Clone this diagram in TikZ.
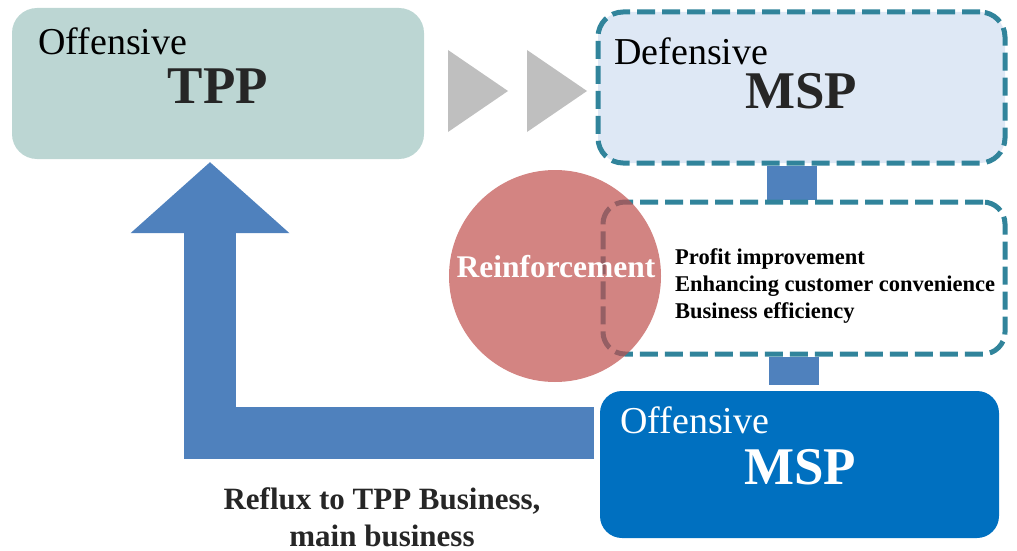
\documentclass[tikz,border=0pt]{standalone}
\usepackage{fontspec}
\setmainfont{Liberation Serif}
\usetikzlibrary{arrows.meta,backgrounds}

\definecolor{tppgreen}{HTML}{BCD6D3}
\definecolor{playgray}{HTML}{BFBFBF}
\definecolor{defblue}{HTML}{DEE8F5}
\definecolor{dashteal}{HTML}{31849B}
\definecolor{linkblue}{HTML}{4F81BD}
\definecolor{reinfred}{HTML}{C0504D}
\definecolor{mspblue}{HTML}{0070C0}
\definecolor{darktext}{HTML}{262626}

\begin{document}
\begin{tikzpicture}
		[
		x = 1pt, y = -1pt,
		box/.style = {rectangle, rounded corners = 25pt, inner sep = 0pt},
		tppbox/.style = {box, fill = tppgreen, minimum width = 412pt, minimum height = 151pt},
		dashbox/.style = {box, draw = dashteal, line width = 5pt, dash pattern = on 18pt off 7pt},
		defbox/.style = {dashbox, fill = defblue, minimum width = 407pt, minimum height = 151pt},
		gainbox/.style = {dashbox, fill = white, rounded corners = 22pt, minimum width = 402pt, minimum height = 152pt},
		mspbox/.style = {box, fill = mspblue, rounded corners = 22pt, minimum width = 399pt, minimum height = 147pt},
		tagtext/.style = {inner sep = 0pt, font = \fontsize{38}{45}\selectfont},
		headtext/.style = {inner sep = 0pt, text = darktext, font = \fontsize{53}{60}\selectfont\bfseries},
		itemtext/.style = {inner sep = 0pt, align = left, font = \fontsize{22.5}{27}\selectfont\bfseries},
		refluxtext/.style = {inner sep = 0pt, align = center, text = darktext, font = \fontsize{31}{37}\selectfont\bfseries},
		link/.style = {linkblue, line width = 50pt},
		reflux/.style = {linkblue, line width = 52pt, -{Triangle[length = 71pt, width = 159pt, line width = 0pt]}},
		play/.style = {fill = playgray},
		reinf/.style = {circle, fill = reinfred, fill opacity = 0.7, minimum size = 212pt, inner sep = 0pt},
		]
		
		\useasboundingbox (0,0) rectangle (1017,551);
		
		\node[tppbox] (tpp) at (218,83.5) {};
		\node[tagtext, anchor = base west] (tppover) at (38,55) {Offensive};
		\node[headtext, anchor = base] (tpptitle) at (218,103) {TPP};
		
		\coordinate (play1) at (448,91);
		\coordinate (play2) at (527,91);
		\fill[play] (play1) ++(0,-41) -- ++(60,41) -- ++(-60,41) -- cycle;
		\fill[play] (play2) ++(0,-41) -- ++(60,41) -- ++(-60,41) -- cycle;
		
		\node[defbox] (def) at (801.5,87.5) {};
		\node[tagtext, anchor = base west] (defover) at (614,64) {Defensive};
		\node[headtext, anchor = base] (deftitle) at (801,108) {MSP};
		
		\node[gainbox] (gain) at (804,278) {};
		\node[reinf] (reinf) at (555,276) {};
		\node[inner sep = 0pt, text = white, font = \fontsize{31.5}{37}\selectfont\bfseries] (reinftext) at (556,267) {Reinforcement};
		\node[itemtext, anchor = west] (gaintext) at (675,286) {Profit improvement\\Enhancing customer convenience\\Business efficiency};
		
		\node[mspbox] (msp) at (799.5,464.5) {};
		\node[tagtext, text = white, anchor = base west] (mspover) at (620,433) {Offensive};
		\node[headtext, text = white, anchor = base] (msptitle) at (800,484) {MSP};
		
		\begin{scope}[on background layer]
			\draw[link] ([xshift = -10pt]def.south) -- ([xshift = -10pt]def.south |- gain.north);
			\draw[link] ([xshift = -10pt]gain.south) -- ([xshift = -10pt,yshift = 6pt]gain.south |- msp.north);
		\end{scope}
		
		\coordinate (refl) at (594,433);
		\draw[reflux, shorten > = 3pt] (refl) -| ([xshift = -8pt]tpp.south);
		
		\node[refluxtext] (refluxlabel) at (382,517) {Reflux to TPP Business,\\main business};
		
		\end{tikzpicture}
\end{document}
